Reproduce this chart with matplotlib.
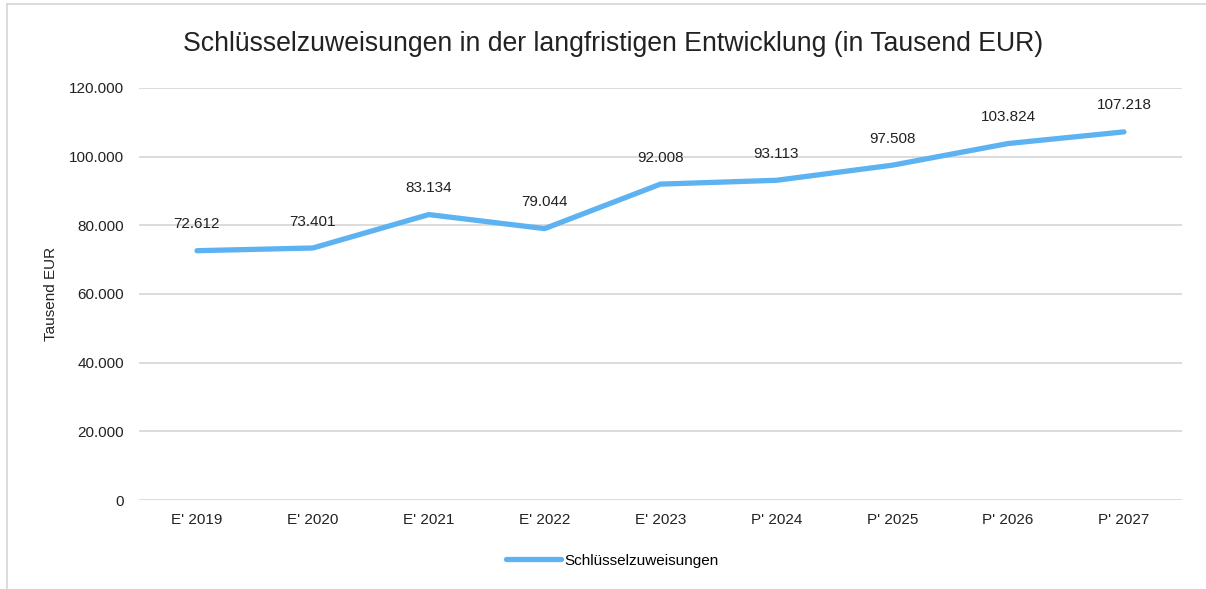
import matplotlib
matplotlib.use("Agg")
import matplotlib.pyplot as plt
from matplotlib.lines import Line2D
from matplotlib.ticker import FuncFormatter

categories = ["E' 2019", "E' 2020", "E' 2021", "E' 2022", "E' 2023",
              "P' 2024", "P' 2025", "P' 2026", "P' 2027"]
values = [72612, 73401, 83134, 79044, 92008, 93113, 97508, 103824, 107218]
series_name = "Schlüsselzuweisungen"
title = "Schlüsselzuweisungen in der langfristigen Entwicklung (in Tausend EUR)"
ylabel = "Tausend EUR"
yticks = [0, 20000, 40000, 60000, 80000, 100000, 120000]

plt.rcParams['font.family'] = ['Liberation Sans', 'DejaVu Sans']

fig = plt.figure(figsize=(12.06, 5.89), dpi=100)
ax = fig.add_axes([0.1153, 0.1511, 0.8647, 0.6995])

color = "#5DB3F2"
x = list(range(len(categories)))
ax.plot(x, values, color=color, linewidth=3.8, solid_capstyle='round',
        solid_joinstyle='round', zorder=3)

def fmt(v):
    return f"{int(round(v)):,}".replace(",", ".")

for xi, v in zip(x, values):
    ax.annotate(fmt(v), (xi, v), xytext=(0, 19), textcoords='offset points',
                ha='center', va='center', fontsize=11, color='#222222')

ax.set_xlim(-0.5, len(categories) - 0.5)
ax.set_ylim(0, 120000)
ax.set_yticks(yticks)
ax.yaxis.set_major_formatter(FuncFormatter(lambda v, p: fmt(v)))
ax.set_xticks(x)
ax.set_xticklabels(categories)
ax.tick_params(axis='both', length=0, labelsize=11, colors='#222222')
ax.tick_params(axis='y', pad=11)
ax.tick_params(axis='x', pad=9)
ax.grid(axis='y', color='#D9D9D9', linewidth=1.3)
ax.set_axisbelow(True)
for s in ax.spines.values():
    s.set_visible(False)

ax.set_ylabel(ylabel, fontsize=11, color='#222222', labelpad=8)

fig.text(0.5085, 0.925, title, ha='center', va='center', fontsize=19.2, color='#222222')

handle = Line2D([0], [0], color=color, linewidth=3.8, solid_capstyle='round')
fig.legend([handle], [series_name], loc='center', bbox_to_anchor=(0.508, 0.048),
           frameon=False, fontsize=11, handlelength=3.6, handletextpad=0.2)

# light outer border (left and top)
fig.add_artist(Line2D([7/1206, 7/1206], [0, 1 - 4/589], transform=fig.transFigure,
                      color='#D9D9D9', linewidth=1.3))
fig.add_artist(Line2D([7/1206, 1], [1 - 4/589, 1 - 4/589], transform=fig.transFigure,
                      color='#D9D9D9', linewidth=1.3))

fig.savefig("out.png", dpi=100, facecolor='white')
